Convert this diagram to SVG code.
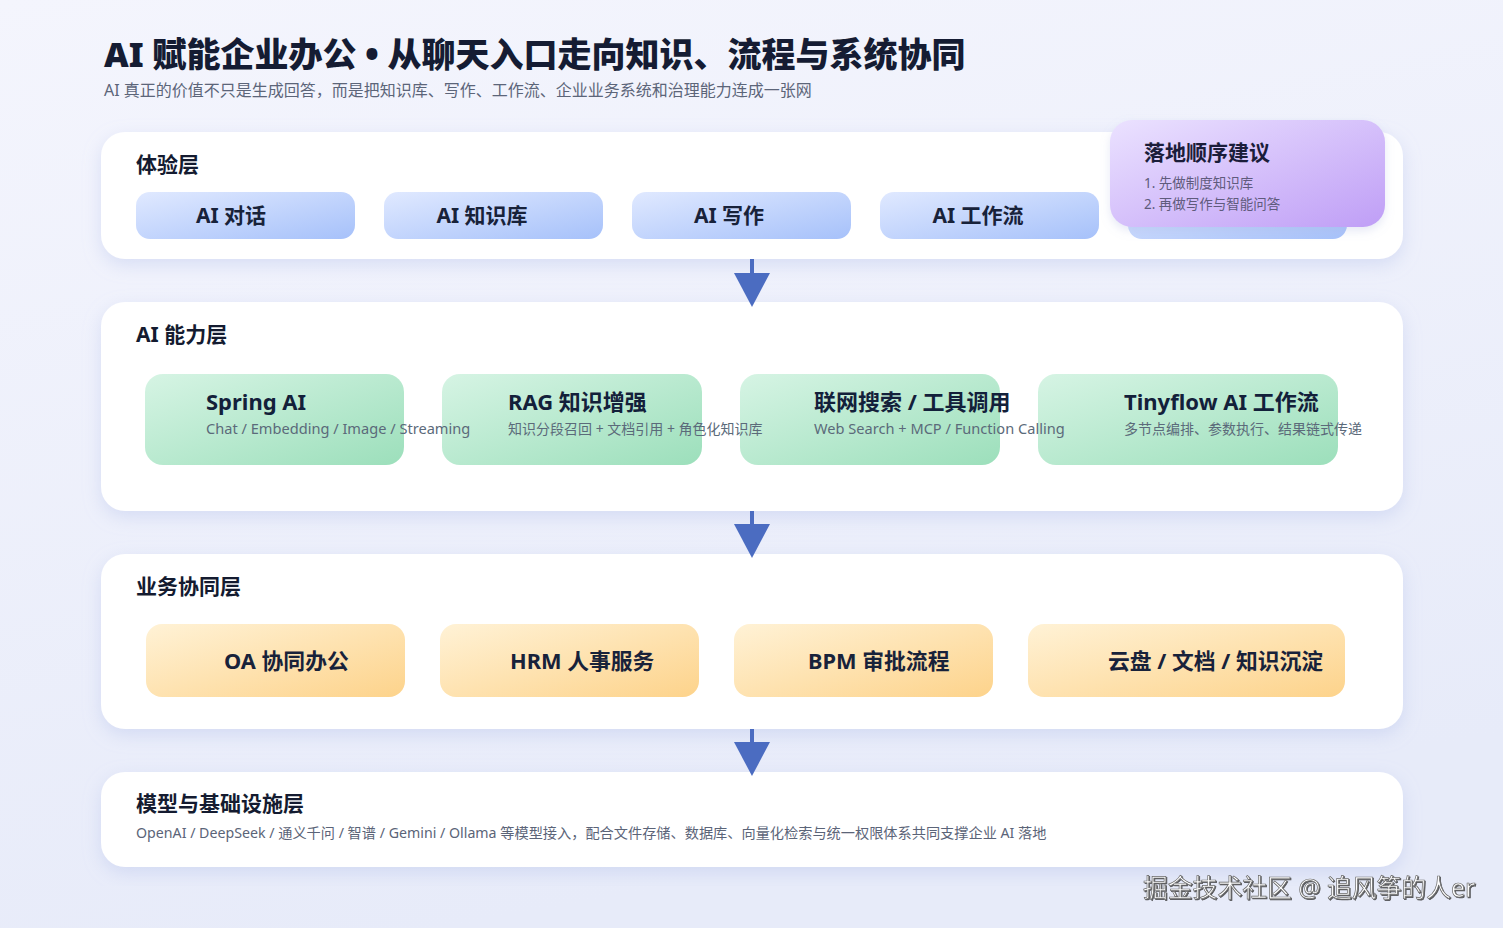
<svg xmlns="http://www.w3.org/2000/svg" width="1503" height="928" viewBox="0 0 1503 928">
<defs>
  <linearGradient id="bg" x1="0" y1="0" x2="0.3" y2="1">
    <stop offset="0" stop-color="#f4f5fd"/>
    <stop offset="1" stop-color="#e7ebf9"/>
  </linearGradient>
  <linearGradient id="gBlue" x1="0" y1="0" x2="1" y2="1">
    <stop offset="0" stop-color="#e0e9ff"/>
    <stop offset="1" stop-color="#a6c1fa"/>
  </linearGradient>
  <linearGradient id="gGreen" x1="0" y1="0" x2="1" y2="1">
    <stop offset="0" stop-color="#d6f4e4"/>
    <stop offset="1" stop-color="#9cdfbb"/>
  </linearGradient>
  <linearGradient id="gOrange" x1="0" y1="0" x2="1" y2="1">
    <stop offset="0" stop-color="#fff2d6"/>
    <stop offset="1" stop-color="#fdd38b"/>
  </linearGradient>
  <linearGradient id="gPurple" x1="0" y1="0" x2="1" y2="1">
    <stop offset="0" stop-color="#ebe2ff"/>
    <stop offset="1" stop-color="#bf9ef6"/>
  </linearGradient>
  <filter id="panelShadow" x="-5%" y="-20%" width="110%" height="140%">
    <feDropShadow dx="0" dy="6" stdDeviation="9" flood-color="#a9b6e6" flood-opacity="0.35"/>
  </filter>
  <filter id="cardShadow" x="-10%" y="-20%" width="120%" height="150%">
    <feDropShadow dx="0" dy="4" stdDeviation="5" flood-color="#9aa8d8" flood-opacity="0.25"/>
  </filter>
  <filter id="wmShadow" x="-5%" y="-30%" width="110%" height="160%">
    <feDropShadow dx="1" dy="1" stdDeviation="0.6" flood-color="#333333" flood-opacity="0.8"/>
  </filter>
  <marker id="arrowHead" viewBox="0 0 34 36" refX="0" refY="18" markerWidth="34" markerHeight="36" markerUnits="userSpaceOnUse" orient="auto">
    <path d="M0,0 L34,18 L0,36 Z" fill="#4b6cc1"/>
  </marker>
</defs>
<style>
  text { font-family: "Noto Sans", "Noto Sans CJK SC", sans-serif; }
  .title { font-size: 34px; font-weight: 900; fill: #151c33; }
  .subtitle { font-size: 16px; fill: #5c6579; }
  .panel { fill: #ffffff; filter: url(#panelShadow); }
  .layerLabel { font-size: 21px; font-weight: 700; fill: #141b30; }
  .blue { fill: url(#gBlue); }
  .green { fill: url(#gGreen); }
  .orange { fill: url(#gOrange); }
  .purple { fill: url(#gPurple); filter: url(#cardShadow); }
  .btnText { font-size: 21px; font-weight: 700; fill: #18223a; text-anchor: middle; }
  .cardTitle { font-size: 22px; font-weight: 700; fill: #13203a; }
  .cardSub { font-size: 14px; fill: #5b6a7a; }
  .cardSubLatin { font-size: 14.6px; fill: #5b6a7a; }
  .bizText { font-size: 21.8px; font-weight: 700; fill: #18223a; }
  .note { font-size: 13.5px; fill: #5f5b7c; }
  .noteTitle { font-size: 21px; font-weight: 700; fill: #1b1d3a; }
  .desc { font-size: 14.2px; fill: #5b6478; }
  .conn { stroke: #4b6cc1; stroke-width: 4; fill: none; }
  .wm { font-size: 24.8px; fill: #ffffff; stroke: #6a6a6a; stroke-width: 0.7; filter: url(#wmShadow); }
</style>

<rect x="0" y="0" width="1503" height="928" fill="url(#bg)"/>

<g id="header">
  <text class="title" x="104" y="67">AI 赋能企业办公 • 从聊天入口走向知识、流程与系统协同</text>
  <text class="subtitle" x="104" y="96">AI 真正的价值不只是生成回答，而是把知识库、写作、工作流、企业业务系统和治理能力连成一张网</text>
</g>

<g id="layer-experience">
  <rect class="panel" x="101" y="132" width="1302" height="127" rx="24"/>
  <text class="layerLabel" x="136" y="172">体验层</text>
  <g id="btn-ai-chat"><rect class="blue" x="136" y="192" width="219" height="47" rx="14"/><text class="btnText" x="231" y="223">AI 对话</text></g>
  <g id="btn-ai-kb"><rect class="blue" x="384" y="192" width="219" height="47" rx="14"/><text class="btnText" x="482" y="223">AI 知识库</text></g>
  <g id="btn-ai-write"><rect class="blue" x="632" y="192" width="219" height="47" rx="14"/><text class="btnText" x="729" y="223">AI 写作</text></g>
  <g id="btn-ai-flow"><rect class="blue" x="880" y="192" width="219" height="47" rx="14"/><text class="btnText" x="978" y="223">AI 工作流</text></g>
  <g id="btn-hidden"><rect class="blue" x="1128" y="192" width="219" height="47" rx="14"/></g>
</g>

<g id="note-rollout">
  <rect class="purple" x="1110" y="120" width="275" height="107" rx="22"/>
  <text class="noteTitle" x="1144" y="160">落地顺序建议</text>
  <text class="note" x="1144" y="188">1. 先做制度知识库</text>
  <text class="note" x="1144" y="209">2. 再做写作与智能问答</text>
</g>

<g id="layer-ai">
  <rect class="panel" x="101" y="302" width="1302" height="209" rx="24"/>
  <text class="layerLabel" x="136" y="342">AI 能力层</text>
  <g id="card-tinyflow"><rect class="green" x="1038" y="374" width="300" height="91" rx="18"/>
    <text class="cardTitle" x="1124" y="410">Tinyflow AI 工作流</text>
    <text class="cardSub" x="1124" y="434">多节点编排、参数执行、结果链式传递</text></g>
  <g id="card-search"><rect class="green" x="740" y="374" width="260" height="91" rx="18"/>
    <text class="cardTitle" x="814" y="410">联网搜索 / 工具调用</text>
    <text class="cardSubLatin" x="814" y="434">Web Search + MCP / Function Calling</text></g>
  <g id="card-rag"><rect class="green" x="442" y="374" width="260" height="91" rx="18"/>
    <text class="cardTitle" x="508" y="410">RAG 知识增强</text>
    <text class="cardSub" x="508" y="434">知识分段召回 + 文档引用 + 角色化知识库</text></g>
  <g id="card-spring"><rect class="green" x="145" y="374" width="259" height="91" rx="18"/>
    <text class="cardTitle" x="206" y="410">Spring AI</text>
    <text class="cardSubLatin" x="206" y="434">Chat / Embedding / Image / Streaming</text></g>
</g>

<g id="layer-business">
  <rect class="panel" x="101" y="554" width="1302" height="175" rx="24"/>
  <text class="layerLabel" x="136" y="594">业务协同层</text>
  <g id="card-oa"><rect class="orange" x="146" y="624" width="259" height="73" rx="16"/><text class="bizText" x="224" y="669">OA 协同办公</text></g>
  <g id="card-hrm"><rect class="orange" x="440" y="624" width="259" height="73" rx="16"/><text class="bizText" x="510" y="669">HRM 人事服务</text></g>
  <g id="card-bpm"><rect class="orange" x="734" y="624" width="259" height="73" rx="16"/><text class="bizText" x="808" y="669">BPM 审批流程</text></g>
  <g id="card-drive"><rect class="orange" x="1028" y="624" width="317" height="73" rx="16"/><text class="bizText" x="1108" y="669">云盘 / 文档 / 知识沉淀</text></g>
</g>

<g id="layer-infra">
  <rect class="panel" x="101" y="772" width="1302" height="95" rx="24"/>
  <text class="layerLabel" x="136" y="811">模型与基础设施层</text>
  <text class="desc" x="136" y="838">OpenAI / DeepSeek / 通义千问 / 智谱 / Gemini / Ollama 等模型接入，配合文件存储、数据库、向量化检索与统一权限体系共同支撑企业 AI 落地</text>
</g>

<g id="connectors">
  <line class="conn" x1="752" y1="259" x2="752" y2="273" marker-end="url(#arrowHead)"/>
  <line class="conn" x1="752" y1="511" x2="752" y2="524" marker-end="url(#arrowHead)"/>
  <line class="conn" x1="752" y1="729" x2="752" y2="742" marker-end="url(#arrowHead)"/>
</g>

<text class="wm" x="1143" y="897">掘金技术社区 @ 追风筝的人er</text>
</svg>
